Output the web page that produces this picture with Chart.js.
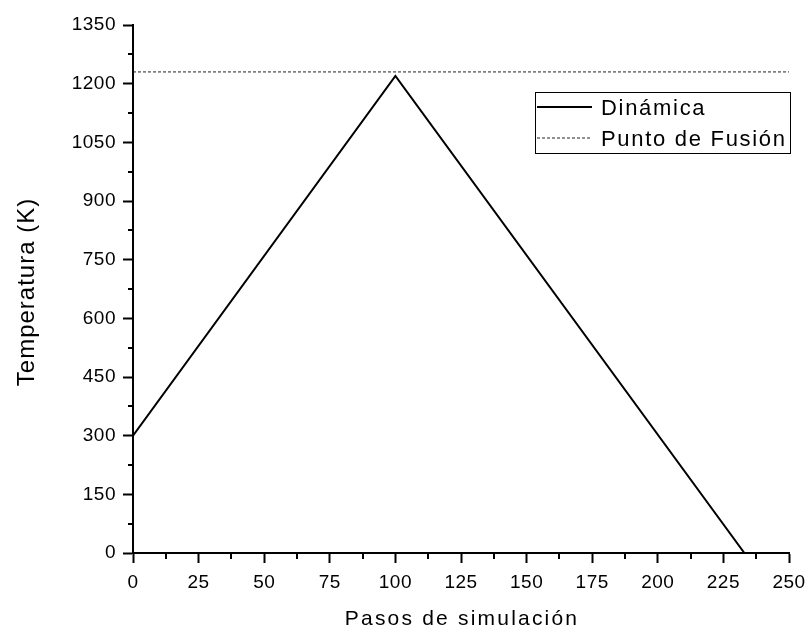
<!DOCTYPE html>
<html>
<head>
<meta charset="utf-8">
<script src="https://cdn.jsdelivr.net/npm/chart.js@4/dist/chart.umd.min.js"></script>
<style>
  html, body { margin: 0; padding: 0; background: #fff; }
  #wrap { width: 809px; height: 631px; }
</style>
</head>
<body>
<div id="wrap"><canvas id="c" width="809" height="631"></canvas></div>
<script>
// Simulation steps and temperature profile (heating, then cooling)
const pasos = [0, 100, 233];
const temperatura = [300, 1220, 0];
// Melting point reference line
const fusionPasos = [0, 250];
const fusionTemp = [1230, 1230];

const xTicks = [0, 25, 50, 75, 100, 125, 150, 175, 200, 225, 250];
const yTicks = [0, 150, 300, 450, 600, 750, 900, 1050, 1200, 1350];

const xTitle = 'Pasos de simulación';
const yTitle = 'Temperatura (K)';

const FONT = '"Liberation Sans", Arial, sans-serif';

// Minor ticks halfway between labelled ticks, drawn outward
const minorTicks = {
  id: 'minorTicks',
  afterDraw(chart) {
    const { ctx, scales: { x, y } } = chart;
    ctx.save();
    ctx.strokeStyle = '#000';
    ctx.lineWidth = 2;
    ctx.beginPath();
    for (let i = 0; i < xTicks.length - 1; i++) {
      const v = (xTicks[i] + xTicks[i + 1]) / 2;
      const px = Math.round(x.getPixelForValue(v));
      ctx.moveTo(px, y.bottom);
      ctx.lineTo(px, y.bottom + 6);
    }
    for (let i = 0; i < yTicks.length - 1; i++) {
      const v = (yTicks[i] + yTicks[i + 1]) / 2;
      const py = Math.round(y.getPixelForValue(v));
      ctx.moveTo(x.left, py);
      ctx.lineTo(x.left - 5, py);
    }
    ctx.stroke();
    ctx.restore();
  }
};

// Axis titles, drawn with their own letter spacing
const axisTitles = {
  id: 'axisTitles',
  afterDraw(chart) {
    const { ctx, chartArea } = chart;
    ctx.save();
    ctx.fillStyle = '#000';
    ctx.textAlign = 'center';
    ctx.textBaseline = 'alphabetic';
    ctx.font = '21px ' + FONT;
    ctx.letterSpacing = '2.2px';
    ctx.fillText(xTitle, (chartArea.left + chartArea.right) / 2 + 1, 625);
    ctx.translate(34, (chartArea.top + chartArea.bottom) / 2 + 3);
    ctx.rotate(-Math.PI / 2);
    ctx.font = '24px ' + FONT;
    ctx.letterSpacing = '1px';
    ctx.fillText(yTitle, 0, 0);
    ctx.restore();
  }
};

// Boxed legend placed inside the plotting area
const boxLegend = {
  id: 'boxLegend',
  afterDraw(chart) {
    const { ctx } = chart;
    const left = 535, top = 92, w = 255, h = 61;
    ctx.save();
    ctx.fillStyle = '#fff';
    ctx.fillRect(left, top, w, h);
    ctx.strokeStyle = '#000';
    ctx.lineWidth = 1;
    ctx.strokeRect(left + 0.5, top + 0.5, w, h);
    const lineY = [107, 138];
    const textY = [115, 146];
    chart.data.datasets.forEach((ds, i) => {
      ctx.beginPath();
      ctx.strokeStyle = ds.borderColor;
      ctx.lineWidth = ds.borderWidth;
      ctx.setLineDash(ds.borderDash || []);
      ctx.moveTo(537, lineY[i]);
      ctx.lineTo(592, lineY[i]);
      ctx.stroke();
      ctx.setLineDash([]);
      ctx.fillStyle = '#000';
      ctx.font = '22px ' + FONT;
      ctx.letterSpacing = '1.7px';
      ctx.textBaseline = 'alphabetic';
      ctx.textAlign = 'left';
      ctx.fillText(ds.label, 601, textY[i]);
    });
    ctx.restore();
  }
};

const spacing = {
  id: 'spacing',
  beforeDraw(chart) { chart.ctx.letterSpacing = '0.5px'; }
};

const plain = v => String(v);

new Chart(document.getElementById('c'), {
  type: 'line',
  data: {
    datasets: [
      {
        label: 'Dinámica',
        data: pasos.map((p, i) => ({ x: p, y: temperatura[i] })),
        borderColor: '#000',
        borderWidth: 2,
        pointRadius: 0,
        tension: 0
      },
      {
        label: 'Punto de Fusión',
        data: fusionPasos.map((p, i) => ({ x: p, y: fusionTemp[i] })),
        borderColor: '#222',
        borderWidth: 1,
        borderDash: [3, 2],
        pointRadius: 0,
        tension: 0
      }
    ]
  },
  options: {
    responsive: false,
    animation: false,
    layout: { padding: { top: 25, right: 20, left: 10, bottom: 1 } },
    plugins: { legend: { display: false }, tooltip: { enabled: false } },
    scales: {
      x: {
        type: 'linear',
        min: 0, max: 250,
        afterBuildTicks(s) { s.ticks = xTicks.map(v => ({ value: v })); },
        afterFit(s) { s.height = 77; s.paddingRight = 0; s.paddingLeft = 0; },
        grid: { display: true, drawOnChartArea: false, drawTicks: true, tickLength: 10, tickWidth: 2, tickColor: '#000' },
        border: { display: true, color: '#000', width: 2 },
        ticks: { color: '#000', font: { family: FONT, size: 19 }, padding: 8, maxRotation: 0, callback: plain },
        title: { display: false }
      },
      y: {
        type: 'linear',
        min: 0, max: 1350,
        afterBuildTicks(s) { s.ticks = yTicks.map(v => ({ value: v })); },
        afterFit(s) { s.width = 123; s.paddingTop = 0; s.paddingBottom = 0; },
        grid: { display: true, drawOnChartArea: false, drawTicks: true, tickLength: 10, tickWidth: 2, tickColor: '#000' },
        border: { display: true, color: '#000', width: 2 },
        ticks: { color: '#000', font: { family: FONT, size: 19 }, padding: 7, callback: plain },
        title: { display: false }
      }
    }
  },
  plugins: [spacing, minorTicks, axisTitles, boxLegend]
});
</script>
</body>
</html>
